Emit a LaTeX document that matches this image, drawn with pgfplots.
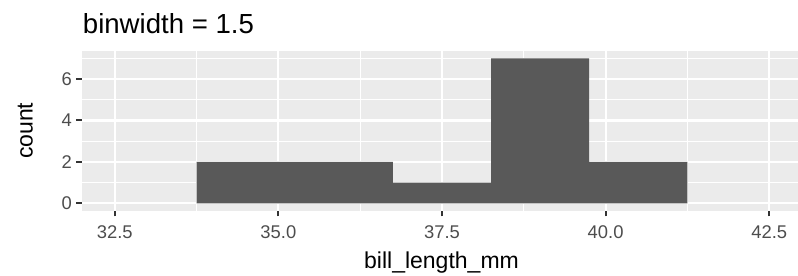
\documentclass[border=0pt]{standalone}
\usepackage{pgfplots}
\pgfplotsset{compat=1.18}
\usepackage{fontspec}
\setmainfont{Liberation Sans}
\definecolor{gray92}{HTML}{EBEBEB}
\definecolor{bargray}{HTML}{595959}
\definecolor{gray30}{HTML}{4D4D4D}
\definecolor{gray20}{HTML}{333333}
\begin{document}
\begin{tikzpicture}
\useasboundingbox (0,0) rectangle (798bp,276bp);
\begin{axis}[
  at={(82bp,65.3bp)}, anchor=south west,
  scale only axis, width=716bp, height=159.7bp,
  xmin=32.0, xmax=42.94, ymin=-0.35, ymax=7.35,
  axis background/.style={fill=gray92},
  axis line style={draw=none},
  xtick={32.5,35,37.5,40,42.5},
  xticklabels={32.5,35.0,37.5,40.0,42.5},
  minor xtick={33.75,36.25,38.75,41.25},
  ytick={0,2,4,6}, minor ytick={1,3,5,7},
  grid=both,
  major grid style={white, line width=2.1bp},
  minor grid style={white, line width=1.1bp},
  tick align=outside, xtick pos=bottom, ytick pos=left,
  major tick length=5.7bp, minor tick length=0pt,
  major tick style={color=gray20, line width=2bp},
  /pgf/number format/assume math mode=true,
  xticklabel style={anchor=base, inner sep=0pt, yshift=-22.3bp, font=\fontsize{18.4bp}{20bp}\selectfont, text=gray30},
  yticklabel style={anchor=east, inner sep=0pt, xshift=-4.3bp, font=\fontsize{18.4bp}{20bp}\selectfont, text=gray30},
  xlabel={bill\_length\_mm},
  xlabel style={at={(axis description cs:0.5021,-0.3607)}, anchor=base, inner sep=0pt, font=\fontsize{23bp}{26bp}\selectfont},
  ylabel={count},
  ylabel style={at={(axis description cs:-0.0691,0.5)}, anchor=base, inner sep=0pt, font=\fontsize{23bp}{26bp}\selectfont},
  title={binwidth = 1.5},
  every axis title shift=0pt,
  title style={at={(axis description cs:0.001,1.1108)}, anchor=base west, yshift=0pt, inner sep=0pt, font=\fontsize{27.6bp}{30bp}\selectfont},
]
\addplot[ybar interval, fill=bargray, draw=none] coordinates {
  (33.75,2) (35.25,2) (36.75,1) (38.25,7) (39.75,2) (41.25,2)
};
\end{axis}
\end{tikzpicture}
\end{document}
